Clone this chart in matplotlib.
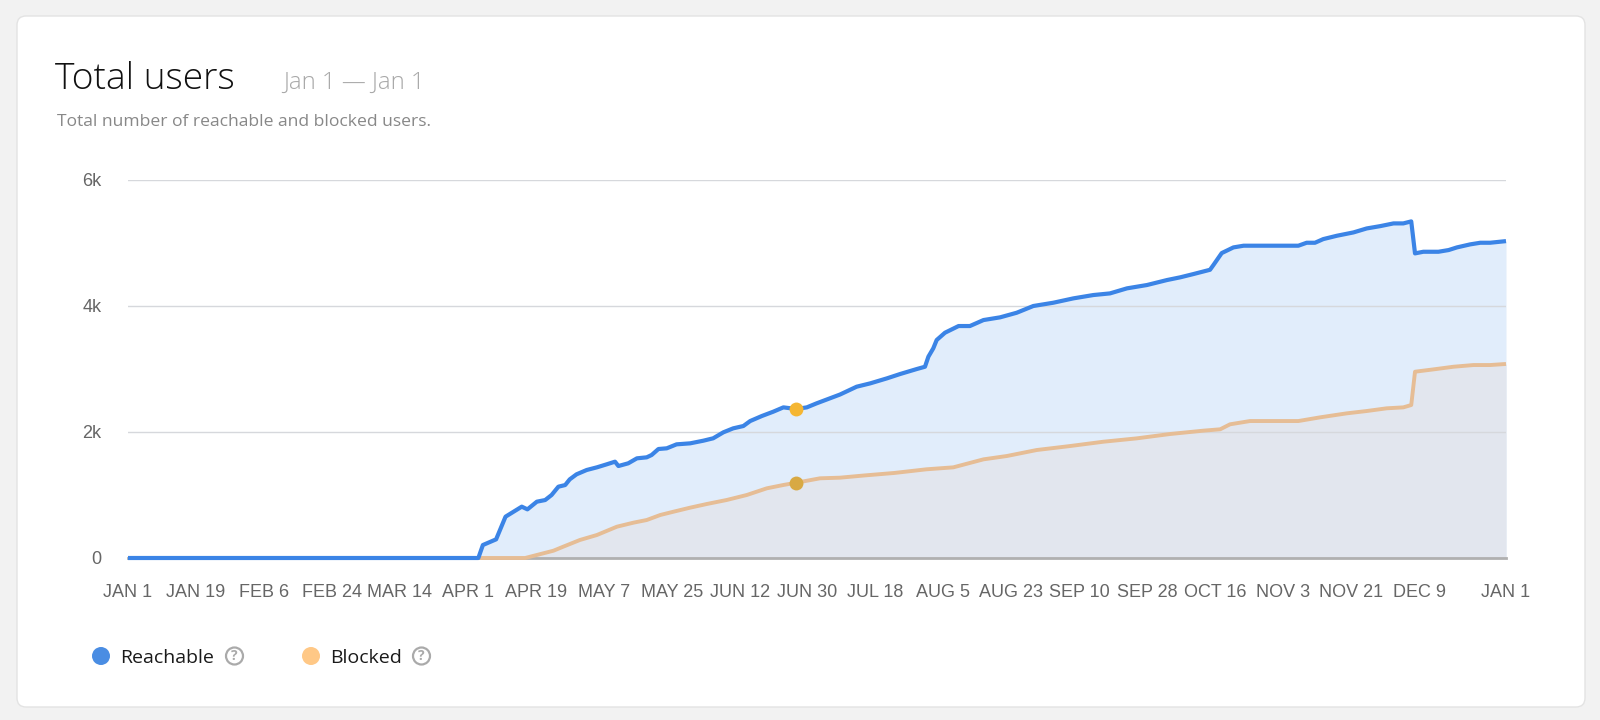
import matplotlib
matplotlib.use("Agg")
import matplotlib.pyplot as plt
from matplotlib.patches import FancyBboxPatch, Circle

# ---------------- data ----------------
reach_days = [0, 92.8, 94, 97.5, 100, 104.3, 105.8, 108.3, 110.5, 112.2, 114, 115.8, 117,
              118.8, 121.5, 124.2, 126.8, 129, 129.9, 132.5, 134.8, 137.4, 138.7, 140.5,
              142.7, 145.3, 148.9, 152.4, 155, 157.7, 160.3, 163, 164.8, 167.9, 170.9,
              173.6, 177, 179.8, 182.4, 188.6, 193, 196.6, 201, 204.5, 208.9, 211.1, 212,
              213.3, 214.2, 216.4, 220, 223, 226.6, 231, 235.4, 239.8, 245.1, 250.4, 255.7,
              260.1, 264.6, 269.9, 275.2, 278.7, 282.2, 286.6, 287.5, 289.7, 292.8, 295.5,
              310, 312.2, 314.4, 316.6, 320.2, 324.6, 328.1, 331.7, 335.2, 337.8, 339.9,
              340.9, 343.1, 347.1, 349.8, 352, 355.5, 358.2, 360.8, 365]
reach_vals = [0, 0, 206, 296, 656, 815, 772, 894, 920, 1000, 1132, 1158, 1248,
              1328, 1397, 1439, 1487, 1529, 1460, 1503, 1582, 1598, 1635, 1730,
              1741, 1804, 1820, 1862, 1900, 1995, 2058, 2095, 2174, 2254, 2322,
              2391, 2365, 2391, 2455, 2595, 2719, 2772, 2851, 2920, 2999, 3036, 3195,
              3328, 3460, 3576, 3682, 3682, 3777, 3820, 3893, 4000, 4052, 4121, 4174,
              4200, 4280, 4333, 4412, 4455, 4507, 4575, 4650, 4840, 4930, 4957,
              4957, 5004, 5004, 5062, 5115, 5168, 5231, 5268, 5311, 5311, 5343,
              4835, 4861, 4861, 4888, 4930, 4978, 5004, 5004, 5030]

block_days = [0, 105.2, 108.3, 112.7, 115.3, 119.7, 124.2, 129.5, 133.9, 137.4, 141, 144.5,
              148.9, 153.3, 158.6, 163.9, 169.2, 173.6, 177, 183.3, 188.6, 195, 203, 211.5,
              218.6, 226.6, 232.8, 240.7, 249.5, 258.4, 267.2, 276, 284.8, 289.3, 291.9,
              297.2, 310, 315.8, 322.8, 328.1, 333.4, 337.8, 339.9, 340.9, 345.8, 351.1,
              356.4, 360.8, 365]
block_vals = [0, 0, 48, 116, 180, 286, 365, 497, 561, 603, 683, 735,
              799, 857, 921, 1000, 1106, 1159, 1195, 1265, 1275, 1310, 1350, 1408,
              1439, 1566, 1619, 1714, 1777, 1846, 1899, 1968, 2021, 2043, 2122,
              2174, 2174, 2233, 2296, 2333, 2376, 2391, 2428, 2957, 2994, 3036,
              3063, 3063, 3080]

hover_day = 177
hover_reach = 2365
hover_block = 1195

x_tick_days = [0, 18, 36, 54, 72, 90, 108, 126, 144, 162, 180, 198, 216, 234, 252, 270,
               288, 306, 324, 342, 365]
x_tick_labels = ["JAN 1", "JAN 19", "FEB 6", "FEB 24", "MAR 14", "APR 1", "APR 19",
                 "MAY 7", "MAY 25", "JUN 12", "JUN 30", "JUL 18", "AUG 5", "AUG 23",
                 "SEP 10", "SEP 28", "OCT 16", "NOV 3", "NOV 21", "DEC 9", "JAN 1"]
y_ticks = [0, 2000, 4000, 6000]
y_tick_labels = ["0", "2k", "4k", "6k"]

title = "Total users"
date_range = "Jan 1 \u2014 Jan 1"
subtitle = "Total number of reachable and blocked users."
legend_labels = ["Reachable", "Blocked"]

# ---------------- style ----------------
W, H = 1600, 720
C_REACH = "#3B84E6"
C_REACH_FILL = "#E1EDFB"
C_BLOCK = "#E6BD95"
C_BLOCK_FILL = "#E2E6EE"

fig = plt.figure(figsize=(W / 100, H / 100), dpi=100)
fig.patch.set_facecolor("#F2F2F2")

# overlay in pixel coordinates
bg = fig.add_axes([0, 0, 1, 1], zorder=0)
bg.set_xlim(0, W)
bg.set_ylim(H, 0)
bg.axis("off")
card = FancyBboxPatch((17, 16), 1568, 691, boxstyle="round,pad=0,rounding_size=9",
                      facecolor="white", edgecolor="#E3E3E3", linewidth=1.0)
bg.add_patch(card)

def ptxt(x, y, s, **kw):
    bg.text(x, y, s, **kw)

ptxt(55, 89, title, fontsize=26.8, family="Open Sans", fontweight="light",
     color="#111111", va="baseline", ha="left")
ptxt(283, 89, date_range, fontsize=17.2, family="Open Sans", fontweight="light",
     color="#A8A8A8", va="baseline", ha="left")
ptxt(57, 126, subtitle, fontsize=12.6, family="Open Sans", color="#888888",
     va="baseline", ha="left")

# legend
leg_items = [(101, "#4A8DE3", legend_labels[0], 120, 234.5),
             (311, "#FFC886", legend_labels[1], 330, 421.5)]
for cx, col, lab, tx, qx in leg_items:
    bg.add_patch(Circle((cx, 656), 9, facecolor=col, edgecolor="none"))
    ptxt(tx, 656, lab, fontsize=14, family="Open Sans", color="#1A1A1A",
         va="center_baseline", ha="left")
    bg.add_patch(Circle((qx, 656), 8.5, facecolor="white", edgecolor="#AAAAAA",
                        linewidth=1.6))
    ptxt(qx, 656.5, "?", fontsize=10, family="Open Sans", fontweight="bold",
         color="#AAAAAA", va="center", ha="center")

# ---------------- chart ----------------
ax = fig.add_axes([128 / W, 1 - 558 / H, (1506 - 128) / W, (558 - 180) / H], zorder=2)
ax.set_facecolor("none")
ax.set_xlim(0, 365)
ax.set_ylim(0, 6000)

ax.fill_between(reach_days, 0, reach_vals, color=C_REACH_FILL, linewidth=0, zorder=1)
ax.fill_between(block_days, 0, block_vals, color=C_BLOCK_FILL, linewidth=0, zorder=2)
for yv in y_ticks[1:]:
    ax.axhline(yv, color="#D6D8DC", linewidth=1.0, zorder=3)
ax.axhline(0, color="#B0B0B0", linewidth=2.0, zorder=3, clip_on=False)
ax.plot(block_days, block_vals, color=C_BLOCK, linewidth=2.8, zorder=4,
        solid_joinstyle="round", solid_capstyle="butt", clip_on=False)
ax.plot(reach_days, reach_vals, color=C_REACH, linewidth=3.0, zorder=5,
        solid_joinstyle="round", solid_capstyle="butt", clip_on=False)
ax.plot([hover_day], [hover_reach], "o", color="#F5B632", markersize=10, zorder=6,
        markeredgewidth=0)
ax.plot([hover_day], [hover_block], "o", color="#D8A943", markersize=10, zorder=6,
        markeredgewidth=0)

for s in ax.spines.values():
    s.set_visible(False)
ax.set_xticks(x_tick_days)
ax.set_xticklabels(x_tick_labels)
ax.set_yticks(y_ticks)
ax.set_yticklabels(y_tick_labels)
ax.tick_params(axis="both", length=0, labelsize=13, labelcolor="#666666")
ax.tick_params(axis="x", pad=19)
ax.tick_params(axis="y", pad=19)
for lbl in ax.get_xticklabels() + ax.get_yticklabels():
    lbl.set_family("Liberation Sans")

fig.savefig("out.png", dpi=100, facecolor=fig.get_facecolor())
